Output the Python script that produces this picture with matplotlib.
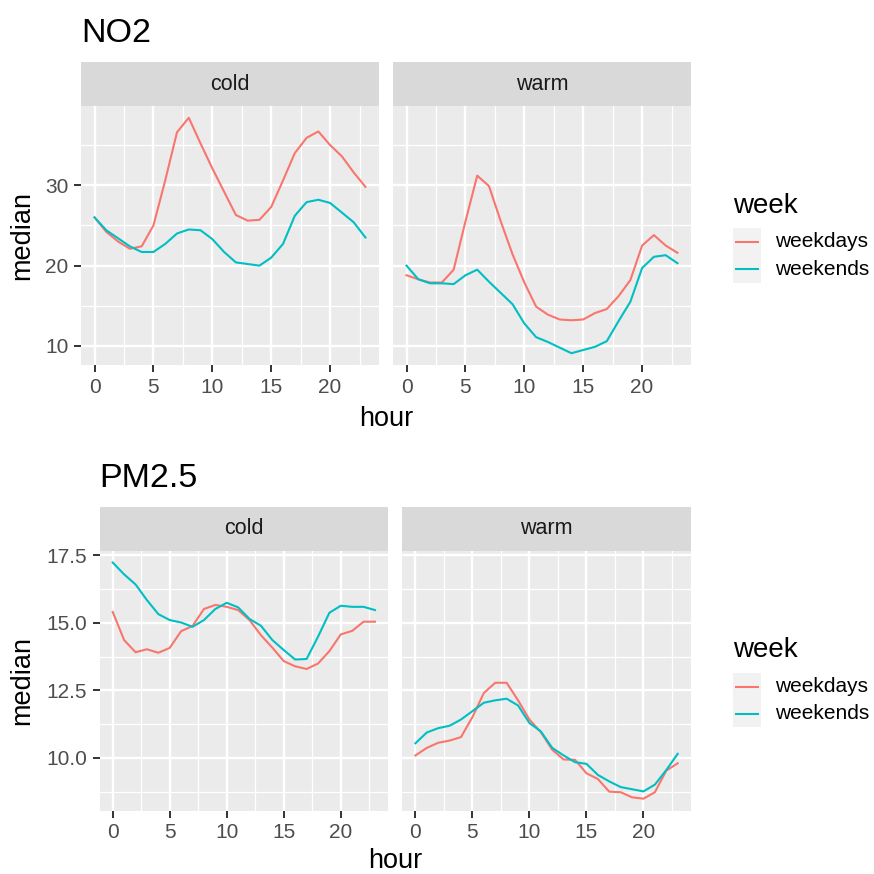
import matplotlib.pyplot as plt
import numpy as np

plt.rcParams['font.family'] = ['Liberation Sans', 'DejaVu Sans']

# data (median by hour)
hours = list(range(24))
seasons = ['cold', 'warm']
groups = ['weekdays', 'weekends']

no2_cold_weekdays = [26.0, 24.2, 23.0, 22.1, 22.4, 25.0, 30.6, 36.6, 38.4, 35.2, 32.1, 29.2,
                     26.3, 25.6, 25.7, 27.3, 30.6, 34.0, 35.9, 36.7, 35.0, 33.6, 31.6, 29.8]
no2_cold_weekends = [26.0, 24.4, 23.4, 22.4, 21.7, 21.7, 22.7, 24.0, 24.5, 24.4, 23.3, 21.7,
                     20.4, 20.2, 20.0, 21.0, 22.7, 26.2, 27.9, 28.2, 27.8, 26.6, 25.4, 23.5]
no2_warm_weekdays = [18.8, 18.3, 17.9, 17.9, 19.5, 25.5, 31.2, 29.9, 25.5, 21.4, 17.9, 14.9,
                     13.9, 13.3, 13.2, 13.3, 14.1, 14.6, 16.2, 18.2, 22.5, 23.8, 22.5, 21.6]
no2_warm_weekends = [20.0, 18.3, 17.8, 17.8, 17.7, 18.8, 19.5, 18.0, 16.6, 15.2, 12.8, 11.1,
                     10.5, 9.8, 9.1, 9.5, 9.9, 10.6, 13.1, 15.5, 19.7, 21.1, 21.3, 20.3]

pm_cold_weekdays = [15.40, 14.36, 13.91, 14.02, 13.89, 14.07, 14.69, 14.88, 15.51, 15.66, 15.59, 15.47,
                    15.10, 14.54, 14.08, 13.58, 13.39, 13.29, 13.49, 13.95, 14.57, 14.70, 15.04, 15.04]
pm_cold_weekends = [17.23, 16.79, 16.42, 15.84, 15.32, 15.10, 15.01, 14.85, 15.10, 15.51, 15.74, 15.57,
                    15.14, 14.89, 14.36, 13.99, 13.64, 13.66, 14.48, 15.37, 15.63, 15.59, 15.59, 15.47]
pm_warm_weekdays = [10.09, 10.37, 10.56, 10.64, 10.77, 11.51, 12.40, 12.78, 12.78, 12.13, 11.42, 10.95,
                    10.30, 9.94, 9.93, 9.43, 9.22, 8.75, 8.73, 8.54, 8.49, 8.73, 9.53, 9.80]
pm_warm_weekends = [10.54, 10.94, 11.10, 11.19, 11.42, 11.73, 12.04, 12.13, 12.19, 11.94, 11.29, 10.98,
                    10.37, 10.09, 9.84, 9.78, 9.37, 9.13, 8.92, 8.84, 8.76, 9.01, 9.55, 10.15]

x_ticks = [0, 5, 10, 15, 20]
x_minor = [2.5, 7.5, 12.5, 17.5, 22.5]
no2_yticks = [10, 20, 30]
no2_yminor = [15, 25, 35]
no2_ylabels = ['10', '20', '30']
pm_yticks = [10.0, 12.5, 15.0, 17.5]
pm_yminor = [8.75, 11.25, 13.75, 16.25]
pm_ylabels = ['10.0', '12.5', '15.0', '17.5']

colors = {'weekdays': '#F8766D', 'weekends': '#00BFC4'}

W = H = 874
fig = plt.figure(figsize=(8.74, 8.74), dpi=100)


def box(x0, y0, x1, y1):
    # pixel box, origin top-left -> figure fraction
    return [x0 / W, 1 - y1 / H, (x1 - x0) / W, (y1 - y0) / H]


def fy(y):
    return 1 - y / H


def chart(title, series, yticks, yminor, ylabels, lefts, right_w, strip_top, strip_bot, panel_bot,
          title_base, xlab_base, leg_title_base, key_top, key_bot):
    allv = np.concatenate([np.array(s) for pair in series for s in pair])
    r = allv.max() - allv.min()
    ylo, yhi = allv.min() - 0.05 * r, allv.max() + 0.05 * r
    for i, season in enumerate(seasons):
        x0 = lefts[i]
        x1 = x0 + right_w
        ax = fig.add_axes(box(x0, strip_bot, x1, panel_bot))
        ax.set_facecolor('#EBEBEB')
        for sp in ax.spines.values():
            sp.set_visible(False)
        for j, g in enumerate(groups):
            ax.plot(hours, series[i][j], color=colors[g], lw=1.5, solid_joinstyle='round')
        ax.set_xlim(-1.15, 24.15)
        ax.set_ylim(ylo, yhi)
        ax.set_xticks(x_ticks)
        ax.set_xticks(x_minor, minor=True)
        ax.set_yticks(yticks)
        ax.set_yticklabels(ylabels)
        ax.set_yticks(yminor, minor=True)
        ax.grid(which='major', color='white', lw=1.7)
        ax.grid(which='minor', color='white', lw=0.9)
        ax.set_axisbelow(True)
        ax.tick_params(which='major', length=5, width=1.4, color='#333333',
                       labelsize=15, labelcolor='#4D4D4D', pad=4)
        ax.tick_params(which='minor', length=0)
        if i == 1:
            ax.tick_params(axis='y', left=False, labelleft=False)
        sax = fig.add_axes(box(x0, strip_top, x1, strip_bot))
        sax.set_facecolor('#D9D9D9')
        sax.set_xticks([])
        sax.set_yticks([])
        for sp in sax.spines.values():
            sp.set_visible(False)
        sax.text(0.5, 0.5, season, ha='center', va='center', fontsize=15.5,
                 color='#1A1A1A', transform=sax.transAxes)

    fig.text(lefts[0] / W, fy(title_base), title, fontsize=24.5, va='baseline', ha='left')
    xc = (lefts[0] + lefts[1] + right_w) / 2
    fig.text(xc / W, fy(xlab_base), 'hour', fontsize=19.5, ha='center', va='baseline')
    fig.text(22 / W, fy((strip_bot + panel_bot) / 2), 'median', fontsize=19.5,
             rotation=90, ha='center', va='center')

    # legend
    fig.text(733 / W, fy(leg_title_base), 'week', fontsize=20, ha='left', va='baseline')
    kax = fig.add_axes(box(733, key_top, 761, key_bot))
    kax.set_facecolor('#F2F2F2')
    kax.set_xlim(0, 1)
    kax.set_ylim(0, 2)
    kax.set_xticks([])
    kax.set_yticks([])
    for sp in kax.spines.values():
        sp.set_visible(False)
    kh = (key_bot - key_top) / 2
    for j, g in enumerate(groups):
        kax.plot([0.1, 0.9], [1.5 - j, 1.5 - j], color=colors[g], lw=1.5)
        fig.text(775 / W, fy(key_top + kh * (j + 0.5)), g, fontsize=15, ha='left', va='center')


chart('NO2',
      [[no2_cold_weekdays, no2_cold_weekends], [no2_warm_weekdays, no2_warm_weekends]],
      no2_yticks, no2_yminor, no2_ylabels,
      lefts=[81, 393], right_w=298, strip_top=62, strip_bot=106, panel_bot=365,
      title_base=42, xlab_base=426, leg_title_base=213, key_top=228, key_bot=283)

chart('PM2.5',
      [[pm_cold_weekdays, pm_cold_weekends], [pm_warm_weekdays, pm_warm_weekends]],
      pm_yticks, pm_yminor, pm_ylabels,
      lefts=[99.6, 402.3], right_w=288.5, strip_top=506.7, strip_bot=550.7, panel_bot=810.5,
      title_base=487, xlab_base=868, leg_title_base=657, key_top=673, key_bot=727)

fig.savefig('out.png', dpi=100, facecolor='white')
